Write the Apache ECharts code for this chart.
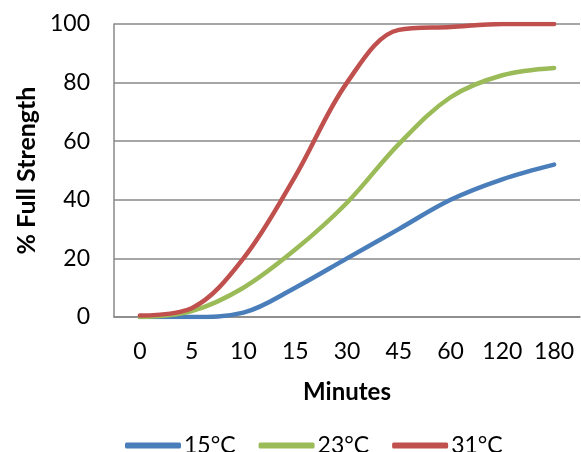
<!DOCTYPE html>
<html><head><meta charset="utf-8">
<script src="https://cdn.jsdelivr.net/npm/echarts@6/dist/echarts.min.js"></script>
<style>html,body{margin:0;padding:0;background:#fff}#c{width:581px;height:452px}</style>
</head><body><div id="c"></div>
<script>
const categories = ['0','5','10','15','30','45','60','120','180'];
const s15 = [0, 0, 1.5, 10, 20, 30, 40, 47, 52];
const s23 = [0, 2, 10, 23, 39, 59, 75, 82.5, 85];
const s31 = [0.5, 3, 20, 48, 80, 98, 99, 100, 100];
const seriesNames = ['15°C', '23°C', '31°C'];
const colors = ['#4a7ebb', '#9bbb59', '#c0504d'];
const yTicks = [0, 20, 40, 60, 80, 100];

const font = 'Lato, "Open Sans", sans-serif';
const chart = echarts.init(document.getElementById('c'), null, {renderer: 'canvas'});
const mk = (name, data, color) => ({
  name, type: 'line', data, smooth: 0.35, showSymbol: false, symbol: 'none',
  lineStyle: {color, width: 4.5, cap: 'round'}, itemStyle: {color}
});
chart.setOption({
  animation: false,
  textStyle: {fontFamily: font},
  grid: {left: 114, right: 1, top: 24, bottom: 135, outerBoundsMode: 'none', containLabel: false},
  xAxis: {
    type: 'category', data: categories, boundaryGap: true,
    name: 'Minutes', nameLocation: 'middle', nameGap: 63,
    nameTextStyle: {fontFamily: font, fontSize: 24, fontWeight: 'bold', color: '#000'},
    axisLine: {show: true, lineStyle: {color: '#888', width: 1.5}},
    axisTick: {show: false},
    axisLabel: {interval: 0, hideOverlap: false, margin: 23, fontFamily: font, fontSize: 23, color: '#000'}
  },
  yAxis: {
    type: 'value', min: yTicks[0], max: yTicks[yTicks.length - 1], interval: 20,
    name: '% Full Strength', nameLocation: 'middle', nameGap: 69, nameRotate: 90,
    nameTextStyle: {fontFamily: font, fontSize: 25, fontWeight: 'bold', color: '#000'},
    axisLine: {show: true, lineStyle: {color: '#888', width: 1.5}},
    axisTick: {show: false},
    axisLabel: {margin: 24, fontFamily: font, fontSize: 23, color: '#000'},
    splitLine: {show: true, lineStyle: {color: '#888', width: 1.5}}
  },
  legend: {
    top: 434, left: 125, padding: 0, itemWidth: 56, itemHeight: 6, itemGap: 23,
    icon: 'roundRect',
    textStyle: {fontFamily: font, fontSize: 23, color: '#000', padding: [0, 0, 0, -2]},
    data: seriesNames
  },
  series: [mk(seriesNames[0], s15, colors[0]), mk(seriesNames[1], s23, colors[1]), mk(seriesNames[2], s31, colors[2])]
});
</script></body></html>
